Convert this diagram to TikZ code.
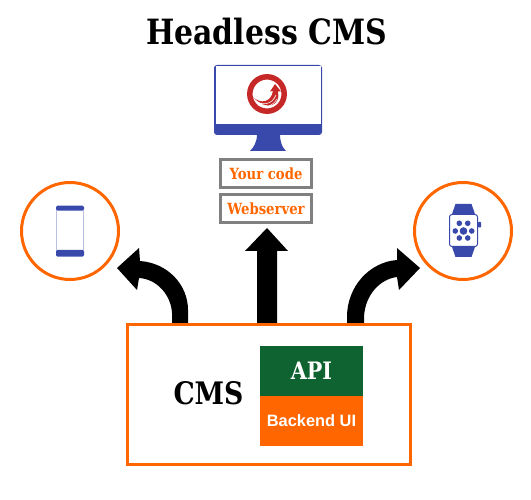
\documentclass[tikz,border=0pt]{standalone}
\usepackage{fontspec}
\setmainfont{DejaVu Serif}
\newfontfamily\slab[FakeStretch=0.86]{DejaVu Serif Bold}
\newfontfamily\sansb{Liberation Sans Bold}
\definecolor{orng}{HTML}{FF6600}
\definecolor{grn}{HTML}{0F6330}
\definecolor{blu}{HTML}{3949AB}
\definecolor{redl}{HTML}{C62828}
\definecolor{gry}{HTML}{808080}
\tikzset{
  ringnode/.style={circle,draw=orng,line width=3pt,minimum size=97pt,inner sep=0pt},
  codebox/.style={draw=gry,line width=3pt,minimum width=91pt,minimum height=28pt,inner sep=0pt,text=orng,font=\slab\fontsize{15.4}{17}\selectfont},
  fatarrow/.style={fill=black,draw=none},
  panel/.style={minimum width=103pt,minimum height=50pt,inner sep=0pt,text=white}
}
\begin{document}
\begin{tikzpicture}[x=1pt,y=-1pt]
\useasboundingbox (0,0) rectangle (531,500);
\node (title) at (266.5,32) {\slab\fontsize{34.8}{38}\selectfont Headless CMS};
% monitor
\fill[blu,rounded corners=3pt] (214,65) rectangle (322,135);
\fill[white] (215.5,66.5) rectangle (320.5,124);
\fill[blu] (257,134) -- (280,134) .. controls (280,142) and (282,147) .. (286,151) -- (250,151) .. controls (254,147) and (257,142) .. (257,134) -- cycle;
% logo
\draw[redl,line width=5.5pt] (267,94) circle (17.2pt);
\fill[redl] (253,97) .. controls (260,104) and (271,103) .. (273,91) -- (270,91.5) -- (275,84) -- (281,91.5) -- (278,91.5) .. controls (281,104) and (268,113) .. (253,97) -- cycle;
\draw[white,line width=.6pt] (255,100.5) .. controls (262,106) and (272,105) .. (276,95);
\draw[white,line width=.5pt] (258,105) .. controls (264,108.5) and (272,107) .. (277,99);
% code boxes
\node[codebox] (code) at (266,173.5) {Your code};
\node[codebox] (web) at (266,208.5) {Webserver};
% device circles
\node[ringnode] (phonec) at (70,231) {};
\node[ringnode] (watchc) at (463,231) {};
% phone
\draw[blu!35,line width=.8pt] (56.5,208) rectangle (83.5,255);
\fill[blu,rounded corners=1.5pt] (56,205.7) rectangle (84,210.7);
\fill[blu,rounded corners=1.5pt] (56,250) rectangle (84,256.7);
% watch
\fill[blu] (452,214) -- (455.5,204) -- (471.5,204) -- (475,214) -- cycle;
\fill[blu] (452,247) -- (455.5,257) -- (471.5,257) -- (475,247) -- cycle;
\draw[blu,line width=1pt,fill=white,rounded corners=2.5pt] (449.5,214.5) rectangle (477.5,246.5);
\fill[blu,rounded corners=.7pt] (478,222) rectangle (481,227.5);
\fill[blu] (463.5,231) circle (3.8pt);
\foreach \px/\py in {455.3/231,471.7/231,459.3/223.3,467.7/223.3,459.3/238,467.7/238}
  \fill[blu] (\px,\py) circle (2.8pt);
% cms
\node[draw=orng,line width=3pt,minimum width=283pt,minimum height=140pt,inner sep=0pt] (cms) at (269,394.5) {};
\node (cmslabel) at (208.5,393) {\slab\fontsize{31}{33}\selectfont CMS};
\node[panel,fill=grn,font=\slab\fontsize{24}{26}\selectfont] (api) at (311.5,371) {API};
\node[panel,fill=orng,font=\sansb\fontsize{16.4}{18}\selectfont] (ui) at (311.5,421) {Backend UI};
% arrows
\fill[fatarrow] (172,323) -- (172,313) .. controls (171,295) and (157,279) .. (139,278) -- (137,290) -- (117,268) -- (139,248) -- (140,261) .. controls (168,263) and (188,285) .. (188,310) -- (188,323) -- cycle;
\fill[fatarrow] (257,323) -- (257,251) -- (245,251) -- (267,228) -- (288,251) -- (277,251) -- (277,323) -- cycle;
\fill[fatarrow] (347,323) -- (347,317) .. controls (347,286) and (370,262) .. (397,260) -- (397,248) -- (420,268) -- (399,290) -- (397,277) .. controls (380,279) and (365,295) .. (364,317) -- (364,323) -- cycle;
\end{tikzpicture}
\end{document}
